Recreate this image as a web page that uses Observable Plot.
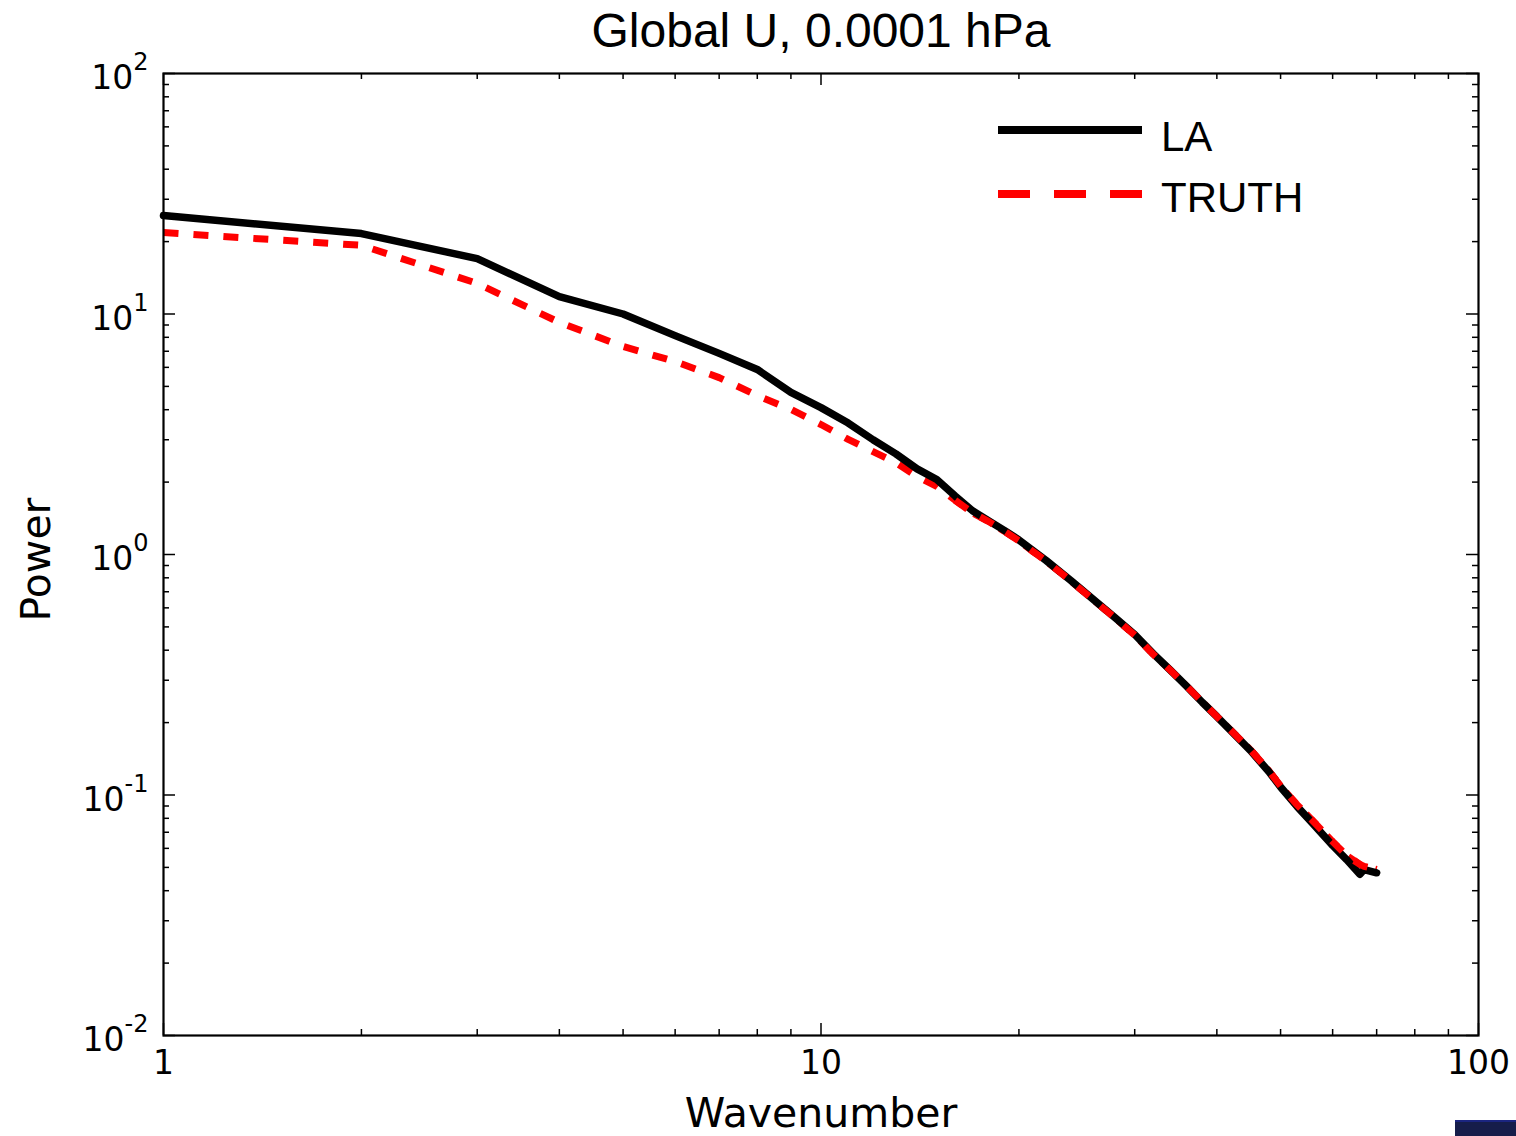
<!DOCTYPE html>
<html><head><meta charset="utf-8">
<script src="https://cdn.jsdelivr.net/npm/d3@7"></script>
<script src="https://cdn.jsdelivr.net/npm/@observablehq/plot@0.6"></script>
<style>
html,body{margin:0;padding:0;background:#fff;}
#wrap{position:relative;width:1516px;height:1136px;overflow:hidden;background:#fff;}
#wrap svg{display:block;}
#legend{position:absolute;left:0;top:0;pointer-events:none;}
#corner{position:absolute;left:1455px;top:1120px;width:61px;height:14px;background:#161d4a;border-top:2px solid #1b2580;}
</style></head><body>
<div id="wrap"></div>
<script>
// ---- data ----
const wavenumber = [1,2,3,4,5,6,7,8,9,10,11,12,13,14,15,16,17,18,19,20,21,22,24,26,28,30,32,34,36,38,40,42,45,48,50,53,56,60,63,66,67,70];
const laPower    = [25.7,21.6,17.0,11.8,10.0,8.13,6.86,5.88,4.72,4.08,3.52,3.0,2.62,2.27,2.05,1.75,1.52,1.38,1.26,1.15,1.04,0.944,0.779,0.647,0.547,0.465,0.387,0.330,0.283,0.243,0.212,0.185,0.153,0.125,0.108,0.0895,0.076,0.0617,0.0539,0.0468,0.0490,0.0475];
const truthPower = [21.8,19.3,13.4,9.23,7.33,6.34,5.44,4.58,4.01,3.47,3.01,2.68,2.41,2.11,1.92,1.68,1.49,1.37,1.25,1.14,1.03,0.94,0.775,0.645,0.545,0.462,0.385,0.330,0.283,0.244,0.212,0.186,0.154,0.126,0.109,0.091,0.078,0.064,0.056,0.0515,0.0505,0.049];

const xTicksMajor = [1, 10, 100];
const xTicksMinor = [2,3,4,5,6,7,8,9,20,30,40,50,60,70,80,90];
const yTicksMajor = [0.01, 0.1, 1, 10, 100];
const yTickExponents = ["-2", "-1", "0", "1", "2"];
const yTicksMinor = [0.01,0.1,1,10].flatMap(d => [2,3,4,5,6,7,8,9].map(m => +(d*m).toPrecision(3)));

const seriesNames = ["LA", "TRUTH"];
const seriesColors = ["#000000", "#ff0000"];
const titleText = "Global U, 0.0001 hPa";
const xLabel = "Wavenumber";
const yLabel = "Power";

// ---- layout ----
const W = 1516, H = 1136;
const mL = 163, mR = 38, mT = 73, mB = 101;
const innerW = W - mL - mR, innerH = H - mT - mB;
const majorLen = 12, minorLen = 6;

const la = wavenumber.map((k, i) => ({k, v: laPower[i]}));
const truth = wavenumber.map((k, i) => ({k, v: truthPower[i]}));

const tickStyle = {stroke: "black", strokeWidth: 1.5};
const dashed = {stroke: seriesColors[1], strokeWidth: 7, strokeDasharray: "15,15", strokeLinecap: "butt", strokeLinejoin: "round"};

const plot = Plot.plot({
  width: W, height: H,
  marginLeft: mL, marginRight: mR, marginTop: mT, marginBottom: mB,
  style: {fontFamily: "'DejaVu Sans', sans-serif", fontSize: "33px", background: "white", color: "black"},
  x: {type: "log", domain: [1, 100], label: null},
  y: {type: "log", domain: [0.01, 100], label: null},
  marks: [
    Plot.line(truth, {x: "k", y: "v", ...dashed}),
    Plot.line(la, {x: "k", y: "v", stroke: seriesColors[0], strokeWidth: 7.5, strokeLinejoin: "round"}),
    Plot.line(truth, {x: "k", y: "v", ...dashed, filter: d => d.k >= 16}),
    // ticks (inward, all four sides)
    Plot.tickX(xTicksMajor, {x: d => d, insetTop: innerH - majorLen, ...tickStyle}),
    Plot.tickX(xTicksMajor, {x: d => d, insetBottom: innerH - majorLen, ...tickStyle}),
    Plot.tickX(xTicksMinor, {x: d => d, insetTop: innerH - minorLen, ...tickStyle}),
    Plot.tickX(xTicksMinor, {x: d => d, insetBottom: innerH - minorLen, ...tickStyle}),
    Plot.tickY(yTicksMajor, {y: d => d, insetRight: innerW - majorLen, ...tickStyle}),
    Plot.tickY(yTicksMajor, {y: d => d, insetLeft: innerW - majorLen, ...tickStyle}),
    Plot.tickY(yTicksMinor, {y: d => d, insetRight: innerW - minorLen, ...tickStyle}),
    Plot.tickY(yTicksMinor, {y: d => d, insetLeft: innerW - minorLen, ...tickStyle}),
    Plot.frame({stroke: "black", strokeWidth: 2.2}),
    // tick labels
    Plot.axisX({ticks: xTicksMajor, tickSize: 0, tickPadding: 15, tickFormat: d => String(d), label: null}),
    Plot.axisY({ticks: yTicksMajor, tickSize: 0, tickPadding: 15, tickFormat: d => "10^" + yTickExponents[yTicksMajor.indexOf(d)], label: null}),
    // axis titles + title
    Plot.text([xLabel], {text: d => d, frameAnchor: "bottom", dy: 91, lineAnchor: "bottom", fontSize: 41}),
    Plot.text([yLabel], {text: d => d, frameAnchor: "left", dx: -114, dy: 5, rotate: -90, textAnchor: "middle", lineAnchor: "bottom", fontSize: 41}),
    Plot.text([titleText], {text: d => d, frameAnchor: "top", dy: -42, lineAnchor: "middle", fontSize: 48, fontFamily: "'Liberation Sans', Arial, sans-serif"})
  ]
});

// superscript exponents for y tick labels
d3.select(plot).selectAll('g[aria-label="y-axis tick label"] text').each(function() {
  const t = this.textContent;
  const [b, e] = t.split("^");
  const s = d3.select(this);
  s.text(null).attr("dy", "0.15em");
  s.append("tspan").text(b);
  s.append("tspan").attr("dy", -19).attr("font-size", "24px").text(e);
});

const wrap = document.getElementById("wrap");
wrap.appendChild(plot);

// legend overlay
const leg = d3.select(wrap).append("svg").attr("id", "legend").attr("width", W).attr("height", H);
const legLineY = [130, 194];
const legTextY = [151, 212];
const legDash = [null, "32,24"];
seriesNames.forEach((name, i) => {
  leg.append("line").attr("x1", 998).attr("x2", 1142).attr("y1", legLineY[i]).attr("y2", legLineY[i])
    .attr("stroke", seriesColors[i]).attr("stroke-width", 8)
    .attr("stroke-dasharray", legDash[i]).attr("stroke-linecap", "butt");
  leg.append("text").attr("x", 1161).attr("y", legTextY[i])
    .attr("font-family", "'Liberation Sans', Arial, sans-serif").attr("font-size", 42)
    .attr("fill", "black").text(name);
});

const corner = document.createElement("div");
corner.id = "corner";
wrap.appendChild(corner);
</script>
</body></html>
